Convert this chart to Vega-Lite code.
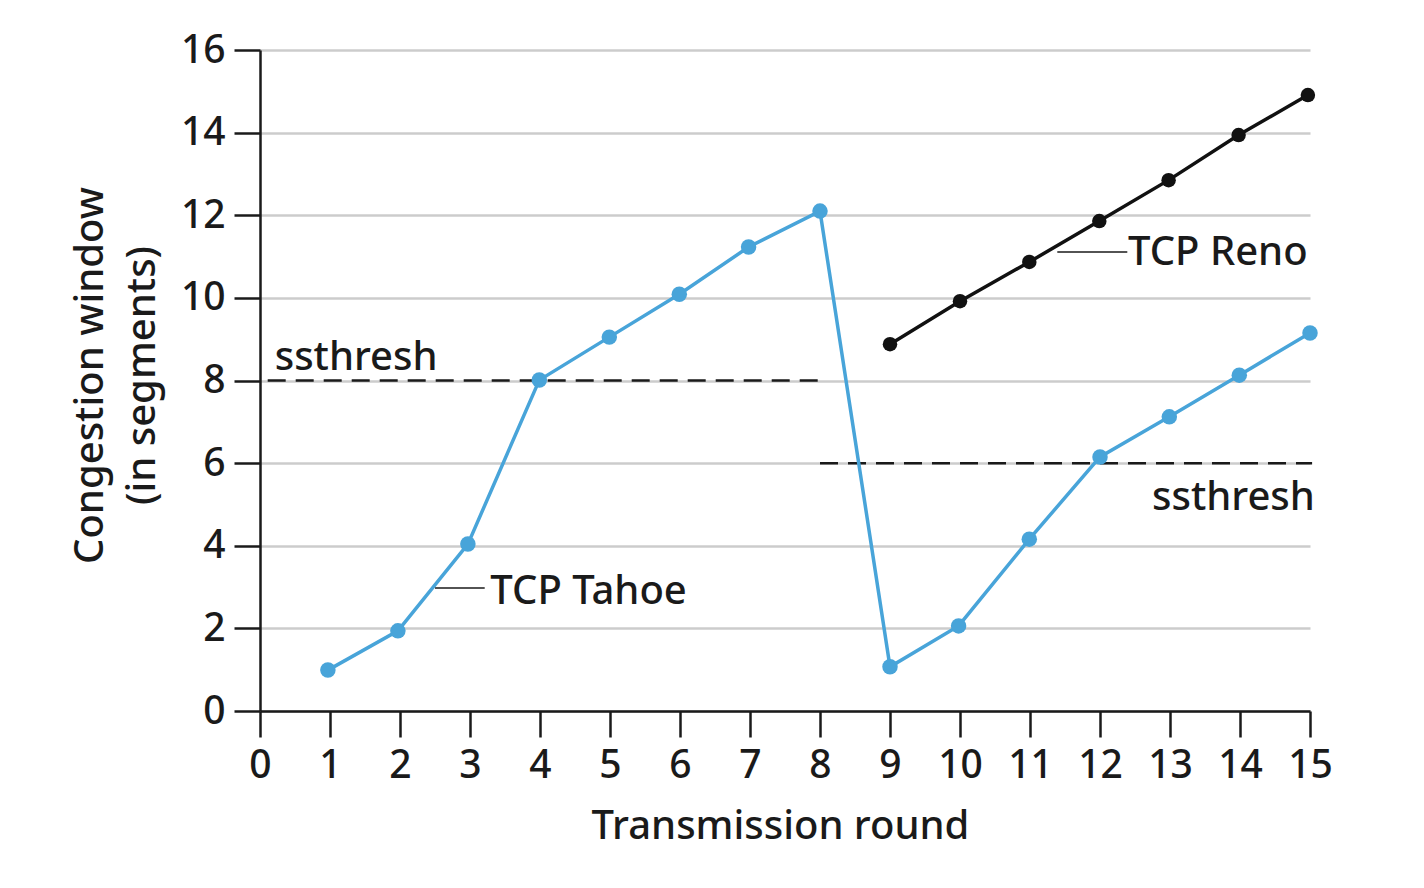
{
  "$schema": "https://vega.github.io/schema/vega-lite/v6.json",
  "width": 1050,
  "height": 661,
  "autosize": {"type": "none"},
  "padding": {"left": 260, "top": 50, "right": 114, "bottom": 177},
  "background": "white",
  "config": {
    "view": {"stroke": null},
    "font": "Noto Sans",
    "axis": {
      "labelFont": "Noto Sans",
      "titleFont": "Noto Sans",
      "labelFontSize": 39,
      "titleFontSize": 40,
      "labelFontWeight": 500,
      "titleFontWeight": 500,
      "labelColor": "#1a1a1a",
      "titleColor": "#1a1a1a",
      "domainColor": "#1a1a1a",
      "domainWidth": 2.5,
      "tickColor": "#1a1a1a",
      "tickWidth": 2.5,
      "tickSize": 26,
      "labelPadding": 9,
      "labelOverlap": false,
      "labelFlush": false
    }
  },
  "datasets": {
    "tahoe": [
      {"round": 0.97, "cwnd": 0.99},
      {"round": 1.97, "cwnd": 1.94},
      {"round": 2.97, "cwnd": 4.04},
      {"round": 3.99, "cwnd": 8.01},
      {"round": 4.99, "cwnd": 9.05},
      {"round": 5.99, "cwnd": 10.09},
      {"round": 6.98, "cwnd": 11.23},
      {"round": 8.0, "cwnd": 12.1},
      {"round": 9.0, "cwnd": 1.07},
      {"round": 9.98, "cwnd": 2.06},
      {"round": 10.99, "cwnd": 4.16},
      {"round": 12.0, "cwnd": 6.15},
      {"round": 12.99, "cwnd": 7.12},
      {"round": 13.99, "cwnd": 8.13},
      {"round": 15.0, "cwnd": 9.15}
    ],
    "reno": [
      {"round": 9.0, "cwnd": 8.88},
      {"round": 10.0, "cwnd": 9.92},
      {"round": 10.99, "cwnd": 10.87},
      {"round": 11.99, "cwnd": 11.86},
      {"round": 12.98, "cwnd": 12.85},
      {"round": 13.98, "cwnd": 13.94},
      {"round": 14.97, "cwnd": 14.91}
    ],
    "thresh": [
      {"x1": 0.11, "x2": 8.0, "y": 8},
      {"x1": 8.0, "x2": 15.03, "y": 6}
    ],
    "leaders": [
      {"x1": 2.5, "x2": 3.21, "y": 2.98},
      {"x1": 11.39, "x2": 12.39, "y": 11.11}
    ],
    "labels": [
      {"text": "ssthresh", "x": 0.21, "y": 8.25, "anchor": "left"},
      {"text": "ssthresh", "x": 15.07, "y": 4.87, "anchor": "right"},
      {"text": "TCP Tahoe", "x": 3.29, "y": 2.59, "anchor": "left"},
      {"text": "TCP Reno", "x": 12.4, "y": 10.8, "anchor": "left"}
    ]
  },
  "layer": [
    {
      "data": {"name": "thresh"},
      "mark": {"type": "rule", "color": "#1a1a1a", "strokeWidth": 2.5, "strokeDash": [18, 10]},
      "encoding": {
        "x": {"field": "x1", "type": "quantitative",
              "scale": {"domain": [0, 15], "nice": false},
              "axis": {"values": [0,1,2,3,4,5,6,7,8,9,10,11,12,13,14,15], "format": "d", "grid": false,
                       "title": "Transmission round", "titleY": 115, "titleBaseline": "middle", "titleX": 520}},
        "x2": {"field": "x2"},
        "y": {"field": "y", "type": "quantitative",
              "scale": {"domain": [0, 16], "nice": false},
              "axis": {"values": [0,2,4,6,8,10,12,14,16], "format": "d", "grid": true, "gridColor": "#cccccc", "gridWidth": 2.5,
                       "title": ["Congestion window", "(in segments)"],
                       "titleAngle": -90, "titleBaseline": "middle", "titleAlign": "center",
                       "titleLineHeight": 52, "titleX": -170, "titleY": 325}}
      }
    },
    {
      "data": {"name": "leaders"},
      "mark": {"type": "rule", "color": "#1a1a1a", "strokeWidth": 1.5},
      "encoding": {
        "x": {"field": "x1", "type": "quantitative"},
        "x2": {"field": "x2"},
        "y": {"field": "y", "type": "quantitative"}
      }
    },
    {
      "data": {"name": "tahoe"},
      "mark": {"type": "line", "color": "#48a4d9", "strokeWidth": 3.5},
      "encoding": {
        "x": {"field": "round", "type": "quantitative"},
        "y": {"field": "cwnd", "type": "quantitative"}
      }
    },
    {
      "data": {"name": "tahoe"},
      "mark": {"type": "circle", "color": "#48a4d9", "opacity": 1, "size": 240},
      "encoding": {
        "x": {"field": "round", "type": "quantitative"},
        "y": {"field": "cwnd", "type": "quantitative"}
      }
    },
    {
      "data": {"name": "reno"},
      "mark": {"type": "line", "color": "#111111", "strokeWidth": 3.5},
      "encoding": {
        "x": {"field": "round", "type": "quantitative"},
        "y": {"field": "cwnd", "type": "quantitative"}
      }
    },
    {
      "data": {"name": "reno"},
      "mark": {"type": "circle", "color": "#111111", "opacity": 1, "size": 210},
      "encoding": {
        "x": {"field": "round", "type": "quantitative"},
        "y": {"field": "cwnd", "type": "quantitative"}
      }
    },
    {
      "data": {"name": "labels"},
      "transform": [{"filter": "datum.anchor == 'left'"}],
      "mark": {"type": "text", "align": "left", "baseline": "alphabetic", "fontSize": 40, "fontWeight": 500, "font": "Noto Sans", "color": "#1a1a1a"},
      "encoding": {
        "x": {"field": "x", "type": "quantitative"},
        "y": {"field": "y", "type": "quantitative"},
        "text": {"field": "text"}
      }
    },
    {
      "data": {"name": "labels"},
      "transform": [{"filter": "datum.anchor == 'right'"}],
      "mark": {"type": "text", "align": "right", "baseline": "alphabetic", "fontSize": 40, "fontWeight": 500, "font": "Noto Sans", "color": "#1a1a1a"},
      "encoding": {
        "x": {"field": "x", "type": "quantitative"},
        "y": {"field": "y", "type": "quantitative"},
        "text": {"field": "text"}
      }
    }
  ]
}
